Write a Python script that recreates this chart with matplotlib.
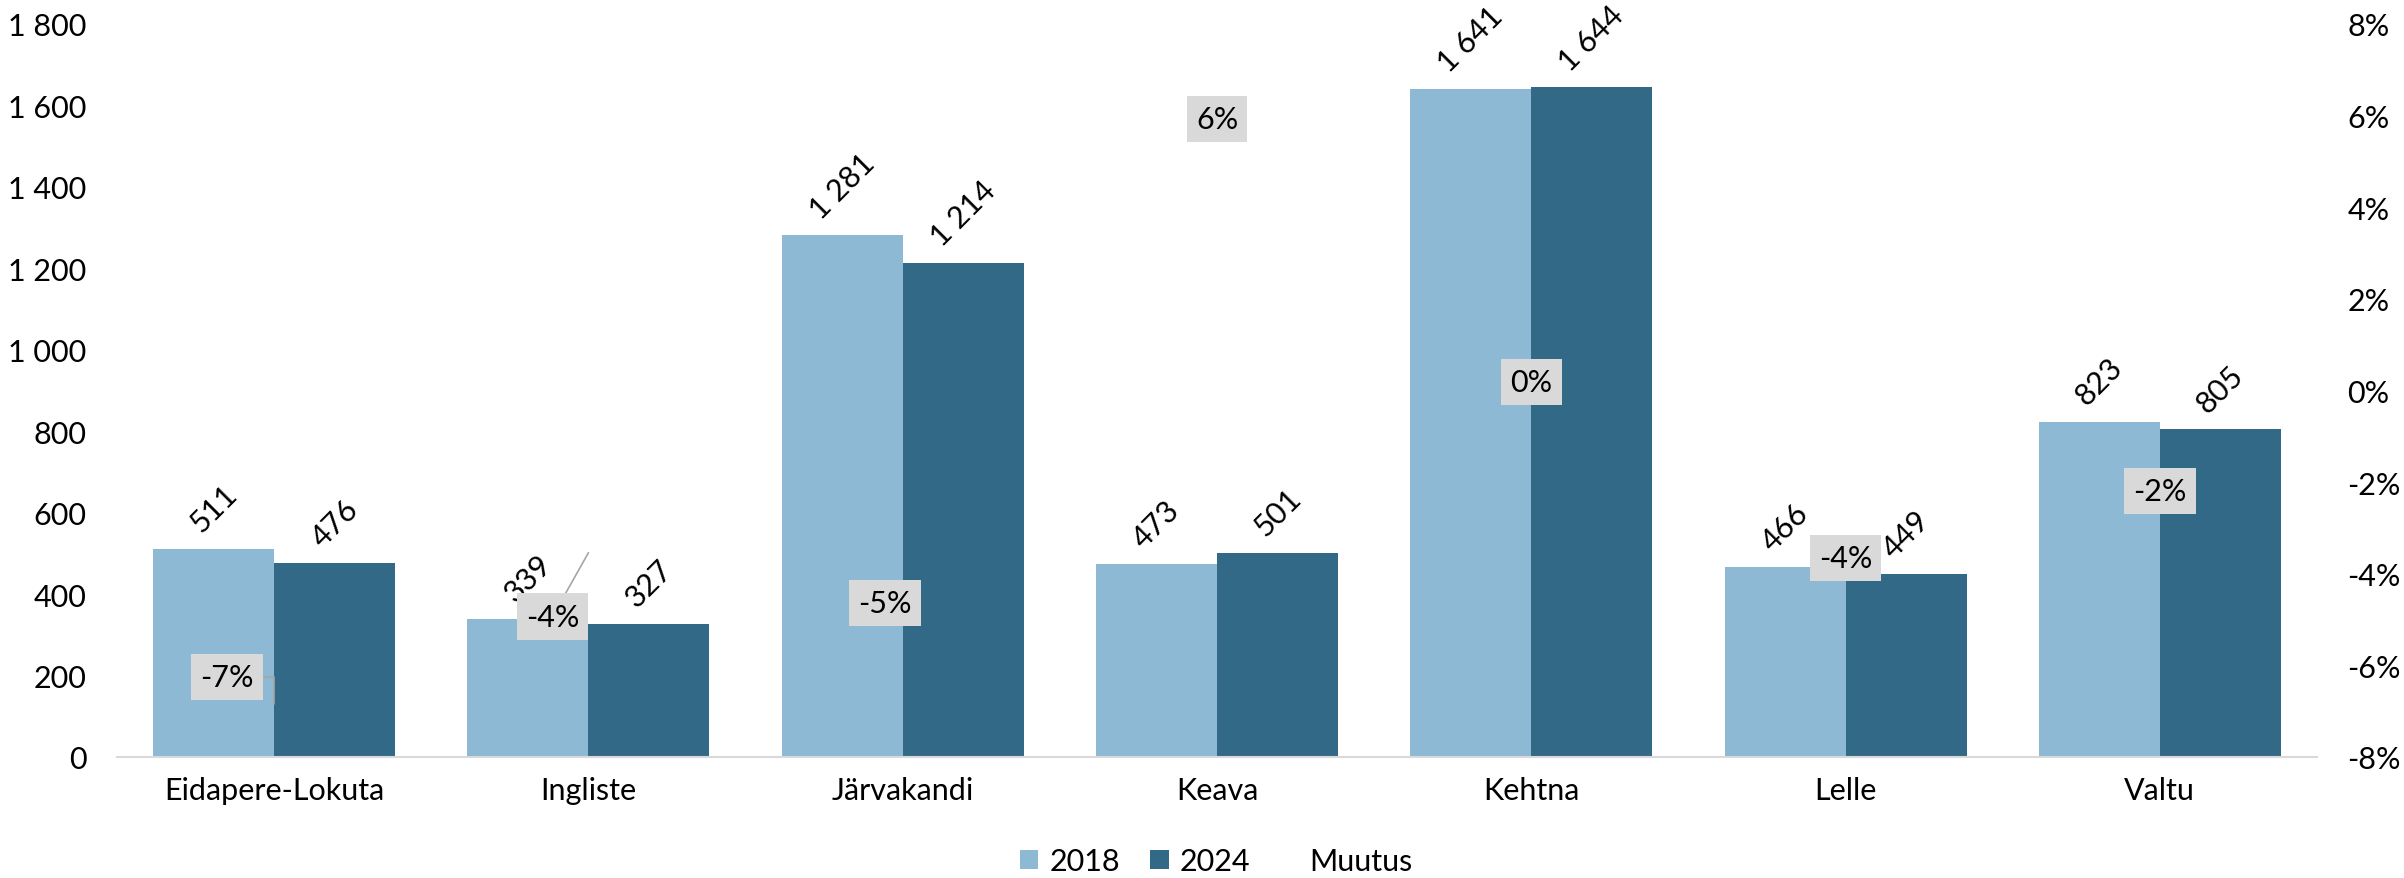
import matplotlib.pyplot as plt
import numpy as np
from matplotlib.ticker import FuncFormatter, MultipleLocator

plt.rcParams['font.family'] = ['Lato', 'DejaVu Sans']
plt.rcParams['font.size'] = 22

# data
places = ['Eidapere-Lokuta', 'Ingliste', 'Järvakandi', 'Keava', 'Kehtna', 'Lelle', 'Valtu']
y2018 = [511, 339, 1281, 473, 1641, 466, 823]
y2024 = [476, 327, 1214, 501, 1644, 449, 805]
muutus = [-0.0685, -0.0354, -0.0523, 0.0592, 0.0018, -0.0365, -0.0219]
# label offsets (pixels) for the Muutus labels that were moved by hand
lab_dx = [-47, -36, -18, 0, 0, 0, 0]
lab_dy = [27, -64, 27, 0, 0, 0, 0]
# connector style per label (None = no leader line)
leader = ['angle,angleA=0,angleB=90,rad=0', 'arc3', None, None, None, None, None]

c18 = '#8DB9D4'
c24 = '#326986'

def spaced(v, pos=None):
    return f'{int(v):,}'.replace(',', ' ')

fig = plt.figure(figsize=(24.04, 8.79), dpi=100)
ax = fig.add_axes([0.0487, 0.1377, 0.9151, 0.8339])
ax2 = ax.twinx()

x = np.arange(len(places))
w = 0.385
b1 = ax.bar(x - w/2, y2018, w, color=c18, label='2018')
b2 = ax.bar(x + w/2, y2024, w, color=c24, label='2024')

for xs, vals in [(x - w/2, y2018), (x + w/2, y2024)]:
    for xi, v in zip(xs, vals):
        ax.annotate(spaced(v), xy=(xi, v), xytext=(0, 12), textcoords='offset pixels',
                    rotation=45, ha='center', va='bottom', color='black')

ax.set_xlim(-0.5, len(places) - 0.5)
ax.set_ylim(0, 1800)
ax.yaxis.set_major_locator(MultipleLocator(200))
ax.yaxis.set_major_formatter(FuncFormatter(spaced))
ax.set_xticks(x)
ax.set_xticklabels(places)

ax2.set_ylim(-0.08, 0.08)
ax2.yaxis.set_major_locator(MultipleLocator(0.02))
ax2.yaxis.set_major_formatter(FuncFormatter(lambda v, p: f'{v*100:.0f}%'))
line, = ax2.plot(x, muutus, linestyle='none', marker='none', label='Muutus')

for i, m in enumerate(muutus):
    arrow = None
    if leader[i]:
        arrow = dict(arrowstyle='-', color='#A6A6A6', lw=1.2, shrinkA=0, shrinkB=0,
                     connectionstyle=leader[i])
    ax2.annotate(f'{round(m*100):.0f}%', xy=(i, m), xytext=(lab_dx[i], lab_dy[i]),
                 textcoords='offset pixels', ha='center', va='center',
                 bbox=dict(boxstyle='square,pad=0.3', fc='#D9D9D9', ec='none'),
                 arrowprops=arrow)

for a in (ax, ax2):
    for s in ['top', 'left', 'right']:
        a.spines[s].set_visible(False)
    a.tick_params(length=0)
ax.spines['bottom'].set_color('#D9D9D9')
ax.spines['bottom'].set_linewidth(1.5)
ax2.spines['bottom'].set_visible(False)
ax.tick_params(axis='y', pad=22)
ax.tick_params(axis='x', pad=14)
ax2.tick_params(axis='y', pad=22)

fig.legend(handles=[b1, b2, line], loc='center', bbox_to_anchor=(0.506, 0.019), ncol=3,
           frameon=False, handlelength=0.6, handleheight=0.6,
           handletextpad=0.35, columnspacing=1.0)

fig.savefig('out.png', dpi=100)
